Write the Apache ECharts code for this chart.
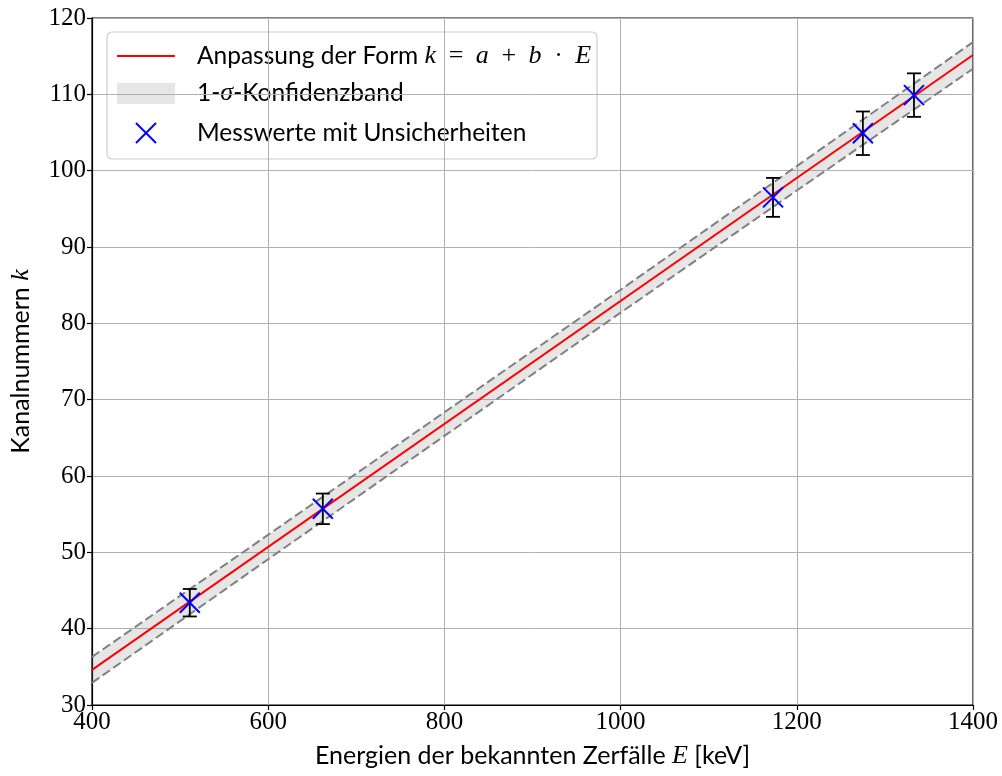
<!DOCTYPE html>
<html>
<head>
<meta charset="utf-8">
<script src="https://cdn.jsdelivr.net/npm/echarts@6/dist/echarts.min.js"></script>
<style>
html,body{margin:0;padding:0;background:#fff;}
#chart{width:1002px;height:776px;}
</style>
</head>
<body>
<div id="chart"></div>
<script>
// ---- Data ----
const energies = [511, 662, 1173, 1275, 1333];          // keV
const channels = [43.4, 55.7, 96.5, 104.9, 109.9];       // k
const channelErr = [1.8, 2.0, 2.55, 2.85, 2.85];         // ±k

const fitE = [400, 1400];
const fitK = [34.6, 115.15];

const bandE = [400, 600, 800, 1000, 1200, 1400];
const bandUpper = [36.3, 52.3, 68.35, 84.4, 100.6, 116.85];
const bandLower = [32.9, 49.1, 65.25, 81.4, 97.4, 113.35];

const xTicks = [400, 600, 800, 1000, 1200, 1400];
const yTicks = [30, 40, 50, 60, 70, 80, 90, 100, 110, 120];

// ---- Styles ----
const SERIF = "'Liberation Serif', 'DejaVu Serif', serif";
const SANS = "Lato, 'Open Sans', 'DejaVu Sans', sans-serif";
const mathRich = {
  i: { fontFamily: SERIF, fontStyle: 'italic', fontSize: 26, color: '#000' },
  m: { fontFamily: SERIF, fontSize: 26, color: '#000' }
};

const chart = echarts.init(document.getElementById('chart'), null, { renderer: 'canvas' });

const option = {
  animation: false,
  backgroundColor: '#fff',
  grid: {
    left: 90, right: 29, top: 18, bottom: 71,
    show: true, borderColor: '#000', borderWidth: 1.2, backgroundColor: 'transparent'
  },
  xAxis: {
    type: 'value', min: xTicks[0], max: xTicks[xTicks.length - 1], interval: 200,
    name: 'Energien der bekannten Zerfälle {i|E} [keV]',
    nameLocation: 'middle', nameGap: 38,
    nameTextStyle: { fontFamily: SANS, fontSize: 25, color: '#000', rich: mathRich },
    axisLine: { show: true, onZero: false, lineStyle: { color: '#000', width: 1.2 } },
    axisTick: { show: true, length: 5, lineStyle: { color: '#000', width: 1.2 } },
    axisLabel: { fontFamily: SERIF, fontSize: 25, color: '#000', margin: 5,
      formatter: function (v) { return String(v); } },
    splitLine: { show: true, lineStyle: { color: '#b0b0b0', width: 1 } }
  },
  yAxis: {
    type: 'value', min: yTicks[0], max: yTicks[yTicks.length - 1], interval: 10,
    name: 'Kanalnummern {i|k}',
    nameLocation: 'middle', nameGap: 58,
    nameTextStyle: { fontFamily: SANS, fontSize: 25, color: '#000', rich: mathRich },
    axisLine: { show: true, onZero: false, lineStyle: { color: '#000', width: 1.2 } },
    axisTick: { show: true, length: 5, lineStyle: { color: '#000', width: 1.2 } },
    axisLabel: { fontFamily: SERIF, fontSize: 25, color: '#000', margin: 6,
      formatter: function (v) { return String(v); } },
    splitLine: { show: true, lineStyle: { color: '#b0b0b0', width: 1 } }
  },
  series: [
    {
      name: '1-σ-Konfidenzband', type: 'custom', silent: true, z: 2,
      data: [[bandE[0], bandLower[0]]],
      clip: true,
      renderItem: function (params, api) {
        const pts = [];
        for (let i = 0; i < bandE.length; i++) pts.push(api.coord([bandE[i], bandUpper[i]]));
        for (let i = bandE.length - 1; i >= 0; i--) pts.push(api.coord([bandE[i], bandLower[i]]));
        return { type: 'polygon', shape: { points: pts }, style: { fill: 'rgba(128,128,128,0.2)' } };
      }
    },
    {
      name: 'upper', type: 'line', silent: true,
      data: bandE.map((e, i) => [e, bandUpper[i]]),
      showSymbol: false, symbol: 'none',
      lineStyle: { color: '#808080', width: 2, type: [9, 4] }, z: 3
    },
    {
      name: 'lower', type: 'line', silent: true,
      data: bandE.map((e, i) => [e, bandLower[i]]),
      showSymbol: false, symbol: 'none',
      lineStyle: { color: '#808080', width: 2, type: [9, 4] }, z: 3
    },
    {
      name: 'Anpassung', type: 'line', silent: true,
      data: fitE.map((e, i) => [e, fitK[i]]),
      showSymbol: false, symbol: 'none',
      lineStyle: { color: '#ff0000', width: 2 }, z: 4
    },
    {
      name: 'errorbars', type: 'custom', silent: true, z: 5,
      data: energies.map((e, i) => [e, channels[i] - channelErr[i], channels[i] + channelErr[i]]),
      renderItem: function (params, api) {
        const lo = api.coord([api.value(0), api.value(1)]);
        const hi = api.coord([api.value(0), api.value(2)]);
        const cw = 7;
        const st = { stroke: '#000', lineWidth: 1.8 };
        return {
          type: 'group',
          children: [
            { type: 'line', shape: { x1: lo[0], y1: lo[1], x2: hi[0], y2: hi[1] }, style: st },
            { type: 'line', shape: { x1: lo[0] - cw, y1: lo[1], x2: lo[0] + cw, y2: lo[1] }, style: st },
            { type: 'line', shape: { x1: hi[0] - cw, y1: hi[1], x2: hi[0] + cw, y2: hi[1] }, style: st }
          ]
        };
      }
    },
    {
      name: 'Messwerte', type: 'custom', silent: true, z: 6,
      data: energies.map((e, i) => [e, channels[i]]),
      renderItem: function (params, api) {
        const p = api.coord([api.value(0), api.value(1)]);
        const s = 10;
        const st = { stroke: '#0000ff', lineWidth: 2 };
        return {
          type: 'group',
          children: [
            { type: 'line', shape: { x1: p[0] - s, y1: p[1] - s, x2: p[0] + s, y2: p[1] + s }, style: st },
            { type: 'line', shape: { x1: p[0] - s, y1: p[1] + s, x2: p[0] + s, y2: p[1] - s }, style: st }
          ]
        };
      }
    }
  ],
  graphic: [
    {
      type: 'text', z: 100,
      x: 520, y: -5,
      style: {
        text: 'Lineare Regression der Energiekalibrierung',
        font: "26px " + SANS, fill: '#000', textAlign: 'center', textVerticalAlign: 'bottom'
      }
    },
    {
      type: 'group', z: 50,
      children: [
        { type: 'rect', shape: { x: 107, y: 32, width: 490, height: 127, r: 5 },
          style: { fill: 'rgba(255,255,255,0.8)', stroke: '#cccccc', lineWidth: 1.2 } },
        { type: 'line', shape: { x1: 117, y1: 56, x2: 175, y2: 56 },
          style: { stroke: '#ff0000', lineWidth: 2 } },
        { type: 'rect', shape: { x: 117, y: 83, width: 58, height: 21 },
          style: { fill: 'rgba(128,128,128,0.2)' } },
        { type: 'line', shape: { x1: 136, y1: 123, x2: 156, y2: 143 },
          style: { stroke: '#0000ff', lineWidth: 2 } },
        { type: 'line', shape: { x1: 136, y1: 143, x2: 156, y2: 123 },
          style: { stroke: '#0000ff', lineWidth: 2 } },
        { type: 'text', x: 197, y: 56,
          style: { text: 'Anpassung der Form {i|k}  {m|=}  {i|a}  {m|+}  {i|b}  {m|·}  {i|E}',
            rich: mathRich, font: "24.5px " + SANS, fill: '#000', textVerticalAlign: 'middle' } },
        { type: 'text', x: 197, y: 93,
          style: { text: '1-{i|σ}-Konfidenzband',
            rich: mathRich, font: "24.5px " + SANS, fill: '#000', textVerticalAlign: 'middle' } },
        { type: 'text', x: 197, y: 133,
          style: { text: 'Messwerte mit Unsicherheiten',
            font: "24.5px " + SANS, fill: '#000', textVerticalAlign: 'middle' } }
      ]
    }
  ]
};
chart.setOption(option);
</script>
</body>
</html>
